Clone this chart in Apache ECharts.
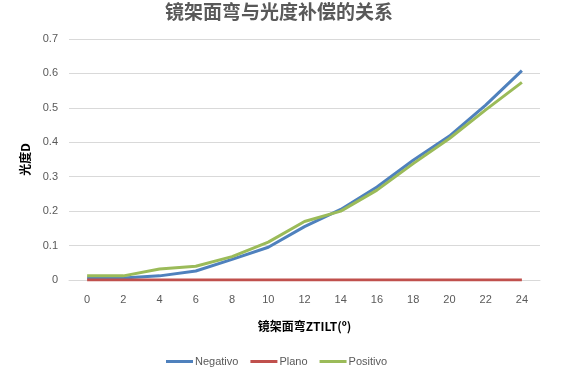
<!DOCTYPE html>
<html>
<head>
<meta charset="utf-8">
<script src="https://cdn.jsdelivr.net/npm/echarts@6/dist/echarts.min.js"></script>
<style>html,body{margin:0;padding:0;background:#fff;}#c{width:566px;height:367px;}</style>
</head>
<body>
<div id="c"></div>
<script>
const categories = ['0','2','4','6','8','10','12','14','16','18','20','22','24'];
const negativo = [0.006, 0.006, 0.012, 0.026, 0.06, 0.095, 0.155, 0.205, 0.27, 0.348, 0.418, 0.508, 0.608];
const plano = [0, 0, 0, 0, 0, 0, 0, 0, 0, 0, 0, 0, 0];
const positivo = [0.012, 0.012, 0.032, 0.04, 0.068, 0.11, 0.17, 0.2, 0.261, 0.338, 0.411, 0.494, 0.574];
const yTicks = [0, 0.1, 0.2, 0.3, 0.4, 0.5, 0.6, 0.7];

const chart = echarts.init(document.getElementById('c'));
const mk = (name, data, color) => ({
  name, type: 'line', data, symbol: 'none', smooth: false,
  lineStyle: { color, width: 3 }, itemStyle: { color }
});
chart.setOption({
  animation: false,
  title: {
    text: '镜架面弯与光度补偿的关系', left: 160, top: -3,
    textStyle: { fontFamily: 'Noto Sans CJK SC', fontSize: 19, fontWeight: 'bold', color: '#595959' }
  },
  grid: { left: 69, right: 26, top: 39, bottom: 87 },
  legend: {
    bottom: -5, left: 161, itemWidth: 27, itemHeight: 3, itemGap: 12,
    icon: 'rect',
    textStyle: { fontFamily: 'Liberation Sans', fontSize: 11, color: '#595959', padding: [0, 0, 0, -3] },
    data: ['Negativo', 'Plano', 'Positivo']
  },
  xAxis: {
    type: 'category', data: categories, boundaryGap: true,
    name: '镜架面弯ZTILT(º)', nameLocation: 'middle', nameGap: 40,
    nameTextStyle: { fontFamily: 'Noto Sans CJK SC', fontSize: 12, fontWeight: 'bold', color: '#000' },
    axisLine: { lineStyle: { color: '#d9d9d9' } },
    axisTick: { show: false },
    axisLabel: { fontFamily: 'Liberation Sans', fontSize: 11, color: '#595959', margin: 14 }
  },
  yAxis: {
    type: 'value', min: 0, max: 0.7, interval: 0.1,
    name: '光度D', nameLocation: 'middle', nameGap: 38, nameRotate: 90,
    nameTextStyle: { fontFamily: 'Noto Sans CJK SC', fontSize: 12, fontWeight: 'bold', color: '#000' },
    axisLine: { show: false }, axisTick: { show: false },
    splitLine: { lineStyle: { color: '#d9d9d9', width: 1 } },
    axisLabel: {
      fontFamily: 'Liberation Sans', fontSize: 11, color: '#595959', margin: 11,
      formatter: v => { const t = yTicks.find(k => Math.abs(k - v) < 1e-9); return t === undefined ? '' : String(t); }
    }
  },
  series: [
    mk('Negativo', negativo, '#4F81BD'),
    mk('Plano', plano, '#C0504D'),
    mk('Positivo', positivo, '#9BBB59')
  ]
});
</script>
</body>
</html>
